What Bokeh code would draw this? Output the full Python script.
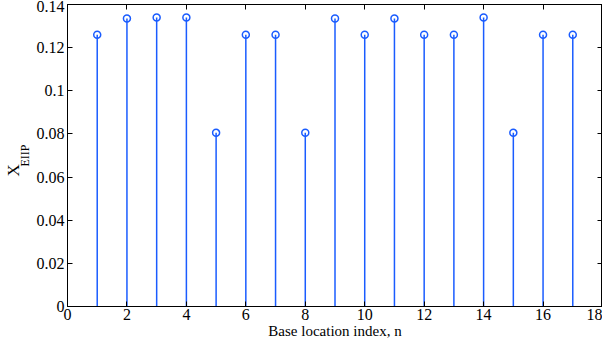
from bokeh.plotting import figure
from bokeh.models import Range1d, FixedTicker, LinearAxis, ColumnDataSource
from bokeh.embed import file_html
from bokeh.resources import INLINE

# Data
n_index = list(range(1, 18))
x_eiip = [0.126, 0.1335, 0.134, 0.134, 0.0805, 0.126, 0.126, 0.0805, 0.1335,
          0.126, 0.1335, 0.126, 0.126, 0.134, 0.0805, 0.126, 0.126]
x_ticks = [0, 2, 4, 6, 8, 10, 12, 14, 16, 18]
y_ticks = [0, 0.02, 0.04, 0.06, 0.08, 0.1, 0.12, 0.14]
y_tick_labels = ["0", "0.02", "0.04", "0.06", "0.08", "0.1", "0.12", "0.14"]
y_label_main = "X"
y_label_sub = "EIIP"
x_label = "Base location index, n"

FONT = "Liberation Serif"
STEM = "#1a5cff"
NBSP = "\u00a0"

p = figure(width=602, height=341, output_backend="svg", toolbar_location=None,
           x_range=Range1d(0, 18), y_range=Range1d(0, 0.14),
           min_border_left=67, min_border_right=0, min_border_top=4, min_border_bottom=35)

src = ColumnDataSource(dict(x=n_index, y=x_eiip, y0=[0] * len(n_index)))
p.segment(x0="x", y0="y0", x1="x", y1="y", source=src, line_color=STEM, line_width=1.5)
p.scatter(x="x", y="y", source=src, marker="circle", size=7, fill_color=None,
          line_color=STEM, line_width=1.5)

p.xgrid.visible = False
p.ygrid.visible = False
p.outline_line_color = "black"
p.outline_line_width = 1
p.background_fill_color = "white"
p.border_fill_color = "white"

for ax in (p.xaxis[0], p.yaxis[0]):
    ax.major_tick_in = 5
    ax.major_tick_out = 0
    ax.minor_tick_line_color = None
    ax.axis_line_color = "black"
    ax.major_tick_line_color = "black"
    ax.major_label_text_font = FONT
    ax.major_label_text_font_size = "16px"
    ax.major_label_text_color = "black"
    ax.axis_label_text_font = FONT
    ax.axis_label_text_font_style = "normal"
    ax.axis_label_text_font_size = "15px"
    ax.axis_label_text_color = "black"

p.xaxis[0].ticker = FixedTicker(ticks=x_ticks)
yax = p.yaxis[0]
yax.ticker = FixedTicker(ticks=y_ticks)
yax.major_label_overrides = {t: l for t, l in zip(y_ticks, y_tick_labels)}
p.xaxis[0].major_label_standoff = 2
yax.major_label_standoff = 3
p.xaxis[0].axis_label = x_label
p.xaxis[0].axis_label_standoff = 0

# box ticks on top and right (no labels)
top = LinearAxis(ticker=FixedTicker(ticks=x_ticks),
                 major_label_overrides={t: "" for t in x_ticks},
                 major_label_text_font_size="0px",
                 major_tick_in=5, major_tick_out=0, minor_tick_line_color=None,
                 major_label_standoff=0)
right = LinearAxis(ticker=FixedTicker(ticks=y_ticks),
                   major_label_overrides={t: "" for t in y_ticks},
                   major_label_text_font_size="0px",
                   major_tick_in=5, major_tick_out=0, minor_tick_line_color=None,
                   major_label_standoff=0)
p.add_layout(top, "above")
p.add_layout(right, "right")


def label_axis(text, size, standoff):
    return LinearAxis(ticker=FixedTicker(ticks=[]), axis_line_color=None,
                      major_tick_line_color=None, minor_tick_line_color=None,
                      major_tick_in=0, major_tick_out=0, major_label_standoff=0,
                      axis_label=text, axis_label_standoff=standoff,
                      axis_label_text_font=FONT, axis_label_text_font_style="normal",
                      axis_label_text_font_size=size, axis_label_text_color="black")


# y-axis label "X" with subscript "EIIP" (padding shifts them along the axis)
sub_axis = label_axis(y_label_sub, "12px", 2)
main_axis = label_axis(y_label_main + NBSP * 7, "17px", -8)
p.left = [yax, sub_axis, main_axis]

open("out.html", "w").write(file_html(p, INLINE))
